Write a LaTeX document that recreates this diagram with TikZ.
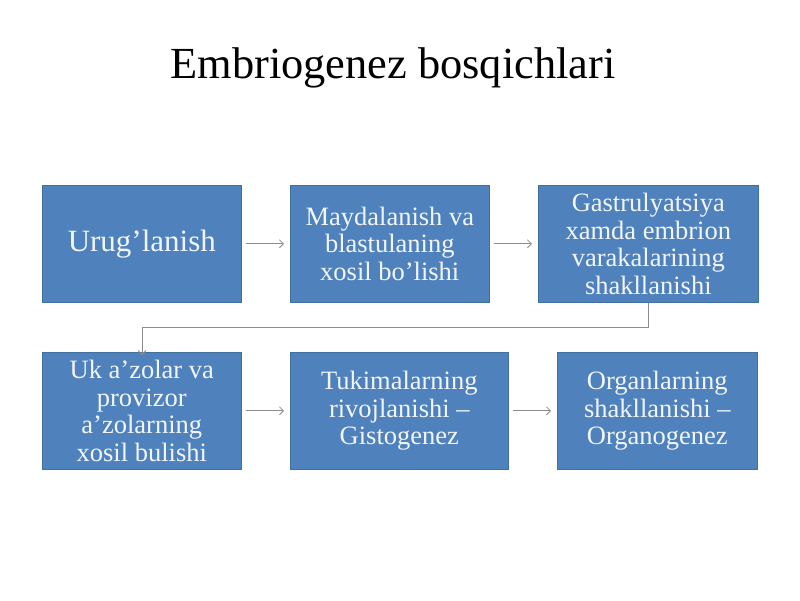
\documentclass[tikz,border=0pt]{standalone}
\usepackage{fontspec}
\setmainfont{Liberation Serif}
\usetikzlibrary{arrows.meta}
\definecolor{boxblue}{HTML}{4F81BD}
\definecolor{boxedge}{HTML}{41719C}
\definecolor{linegray}{HTML}{8C8C8C}
\definecolor{boxtext}{HTML}{F2F6FC}
\begin{document}
\begin{tikzpicture}[x=1pt,y=-1pt,
  stage/.style={draw=boxedge, line width=0.6pt, fill=boxblue, text=boxtext, align=center, anchor=north west, inner sep=0pt, font=\fontsize{26.5}{27.5}\selectfont},
  flow/.style={draw=linegray, line width=0.8pt, -{Straight Barb[length=4pt,width=8pt]}}
]
\useasboundingbox (0,0) rectangle (800,600);
\node[font=\fontsize{44.4}{48}\selectfont] (title) at (393,68) {Embriogenez bosqichlari};
\node[stage, minimum width=199, minimum height=117, font=\fontsize{31}{33}\selectfont] (b1) at (42,185) {Urug’lanish};
\node[stage, minimum width=199, minimum height=117] (b2) at (290,185) {Maydalanish va\\blastulaning\\xosil bo’lishi};
\node[stage, minimum width=220, minimum height=117] (b3) at (538,185) {Gastrulyatsiya\\xamda embrion\\varakalarining\\shakllanishi};
\node[stage, minimum width=199, minimum height=117] (b4) at (42,352) {Uk a’zolar va\\provizor\\a’zolarning\\xosil bulishi};
\node[stage, minimum width=218, minimum height=117] (b5) at (290,352) {Tukimalarning\\rivojlanishi –\\Gistogenez};
\node[stage, minimum width=200, minimum height=117] (b6) at (557,352) {Organlarning\\shakllanishi –\\Organogenez};
\draw[flow] ([xshift=4pt]b1.east) -- ([xshift=-6pt]b2.west);
\draw[flow] ([xshift=4pt]b2.east) -- ([xshift=-6pt]b3.west);
\draw[flow] ([xshift=4pt]b4.east) -- ([xshift=-6pt]b5.west);
\draw[flow] ([xshift=4pt]b5.east) -- ([xshift=-6pt]b6.west);
\coordinate (c1) at (648,327);
\coordinate (c2) at (142,327);
\draw[flow] (b3.south -| c1) -- (c1) -- (c2) -- ([yshift=-3pt]b4.north -| c2);
\end{tikzpicture}
\end{document}
